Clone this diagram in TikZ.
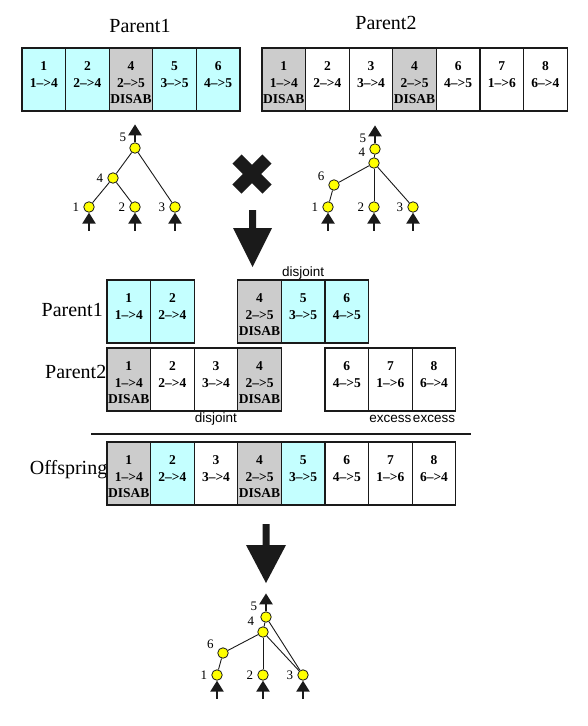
\documentclass[tikz,border=0pt]{standalone}
\usepackage{fontspec}
\setmainfont{Liberation Serif}
\setsansfont{Liberation Sans}
\usepackage{tikz}
\usetikzlibrary{arrows.meta,positioning}
\definecolor{genecyan}{HTML}{C4FFFF}
\definecolor{genegray}{HTML}{CCCCCC}
\definecolor{neuronyellow}{HTML}{FFFF00}
\definecolor{ncink}{HTML}{1A1A1A}

\begin{document}
\begin{tikzpicture}[x=1pt,y=-1pt,label distance=2pt,
    gene/.style={draw=ncink,line width=1.2pt,anchor=north west,minimum width=43.6pt,minimum height=63pt,inner sep=0pt,outer sep=0pt,text width=43.6pt,align=center,text height=22.5pt,text depth=40.5pt,font=\fontsize{13.5}{16.5}\selectfont\bfseries},
    cyangene/.style={gene,fill=genecyan},
    graygene/.style={gene,fill=genegray},
    whitegene/.style={gene,fill=white},
    title/.style={inner sep=0pt,font=\fontsize{20}{24}\selectfont},
    tag/.style={inner sep=1pt,text height=9.8pt,text depth=2.8pt,font=\sffamily\fontsize{13.5}{14}\selectfont},
    neuron/.style={circle,draw=ncink,line width=0.8pt,fill=neuronyellow,minimum size=10.5pt,inner sep=0pt},
    nlbl/.style={inner sep=2pt,font=\fontsize{13}{13}\selectfont},
    link/.style={draw=ncink,line width=0.9pt},
    io/.style={draw=ncink,line width=2.4pt,-{Triangle[width=13pt,length=11pt]}}]
  \useasboundingbox (0,0) rectangle (587,726);

  % genomes of the two parents
  \node[title,anchor=base] (ttl1) at (140,32) {Parent1};
  \node[title,anchor=base] (ttl2) at (386,29) {Parent2};
  \foreach \num/\con/\kind [count=\k from 0] in {1/1-->4/cyangene, 2/2-->4/cyangene, 4/{2-->5\\DISAB}/graygene, 5/3-->5/cyangene, 6/4-->5/cyangene}
    \node[\kind] (ta\num) at (22+43.6*\k,48) {\num\\\con};
  \foreach \num/\con/\kind [count=\k from 0] in {1/{1-->4\\DISAB}/graygene, 2/2-->4/whitegene, 3/3-->4/whitegene, 4/{2-->5\\DISAB}/graygene, 6/4-->5/whitegene, 7/1-->6/whitegene, 8/6-->4/whitegene}
    \node[\kind] (tb\num) at (262+43.6*\k,48) {\num\\\con};

  % parent1 network
  \node[neuron,label={[nlbl]150:5}] (a5) at (135,148) {};
  \node[neuron,label={[nlbl]left:4}] (a4) at (113,178) {};
  \node[neuron,label={[nlbl]left:1}] (a1) at (89,207) {};
  \node[neuron,label={[nlbl]left:2}] (a2) at (135,207) {};
  \node[neuron,label={[nlbl]left:3}] (a3) at (175,207) {};
  \draw[link] (a1) -- (a4);
  \draw[link] (a2) -- (a4);
  \draw[link] (a4) -- (a5);
  \draw[link] (a3) -- (a5);
  \foreach \n in {a1,a2,a3}
    \draw[io] ([yshift=-18pt]\n.south) -- (\n);
  \draw[io] (a5) -- ([yshift=18pt]a5.north);

  % parent2 network
  \node[neuron,label={[nlbl]150:5}] (b5) at (375,149) {};
  \node[neuron,label={[nlbl]150:4}] (b4) at (374,163) {};
  \node[neuron,label={[nlbl]165:6}] (b6) at (334,185) {};
  \node[neuron,label={[nlbl]left:1}] (b1) at (328,207) {};
  \node[neuron,label={[nlbl]left:2}] (b2) at (374,207) {};
  \node[neuron,label={[nlbl]left:3}] (b3) at (413,207) {};
  \draw[link] (b5) -- (b4);
  \draw[link] (b4) -- (b6);
  \draw[link] (b6) -- (b1);
  \draw[link] (b4) -- (b2);
  \draw[link] (b4) -- (b3);
  \foreach \n in {b1,b2,b3}
    \draw[io] ([yshift=-18pt]\n.south) -- (\n);
  \draw[io] (b5) -- ([yshift=18pt]b5.north);

  % crossover sign and arrow
  \draw[ncink,line width=13pt] (237,159) -- (267,189);
  \draw[ncink,line width=13pt] (267,159) -- (237,189);
  \fill[ncink] (249,210) -- (256,210) -- (256,228) -- (272,228) -- (252.5,267) -- (233,228) -- (249,228) -- cycle;

  % aligned genomes
  \node[title,anchor=base east] (row1) at (103,316.5) {Parent1};
  \node[title,anchor=base east] (row2) at (106.5,378) {Parent2};
  \foreach \col/\num/\con/\kind in {0/1/1-->4/cyangene, 1/2/2-->4/cyangene, 3/4/{2-->5\\DISAB}/graygene, 4/5/3-->5/cyangene, 5/6/4-->5/cyangene}
    \node[\kind] (ma\num) at (107+43.6*\col,280) {\num\\\con};
  \foreach \col/\num/\con/\kind in {0/1/{1-->4\\DISAB}/graygene, 1/2/2-->4/whitegene, 2/3/3-->4/whitegene, 3/4/{2-->5\\DISAB}/graygene, 5/6/4-->5/whitegene, 6/7/1-->6/whitegene, 7/8/6-->4/whitegene}
    \node[\kind] (mb\num) at (107+43.6*\col,348) {\num\\\con};
  \node[tag,above=0pt of ma5] (dj1) {disjoint};
  \node[tag,below=0pt of mb3] (dj2) {disjoint};
  \node[tag,below=0pt of mb7] (ex1) {excess};
  \node[tag,below=0pt of mb8] (ex2) {excess};

  \draw[ncink,line width=1.2pt] (91,434) -- (471,434);

  % offspring genome
  \node[title,anchor=base east] (row3) at (107.5,474) {Offspring};
  \foreach \num/\con/\kind [count=\k from 0] in {1/{1-->4\\DISAB}/graygene, 2/2-->4/cyangene, 3/3-->4/whitegene, 4/{2-->5\\DISAB}/graygene, 5/3-->5/cyangene, 6/4-->5/whitegene, 7/1-->6/whitegene, 8/6-->4/whitegene}
    \node[\kind] (og\num) at (107+43.6*\k,442) {\num\\\con};

  \fill[ncink] (262.5,524) -- (269.5,524) -- (269.5,545) -- (286,545) -- (266,583) -- (246,545) -- (262.5,545) -- cycle;

  % offspring network
  \node[neuron,label={[nlbl]150:5}] (c5) at (266,617) {};
  \node[neuron,label={[nlbl]150:4}] (c4) at (263,632) {};
  \node[neuron,label={[nlbl]160:6}] (c6) at (223,653) {};
  \node[neuron,label={[nlbl]left:1}] (c1) at (217,675) {};
  \node[neuron,label={[nlbl]left:2}] (c2) at (263,675) {};
  \node[neuron,label={[nlbl]left:3}] (c3) at (303,675) {};
  \draw[link] (c5) -- (c4);
  \draw[link] (c4) -- (c6);
  \draw[link] (c6) -- (c1);
  \draw[link] (c4) -- (c2);
  \draw[link] (c4) -- (c3);
  \draw[link] (c5) -- (c3);
  \foreach \n in {c1,c2,c3}
    \draw[io] ([yshift=-18pt]\n.south) -- (\n);
  \draw[io] (c5) -- ([yshift=18pt]c5.north);
\end{tikzpicture}
\end{document}
